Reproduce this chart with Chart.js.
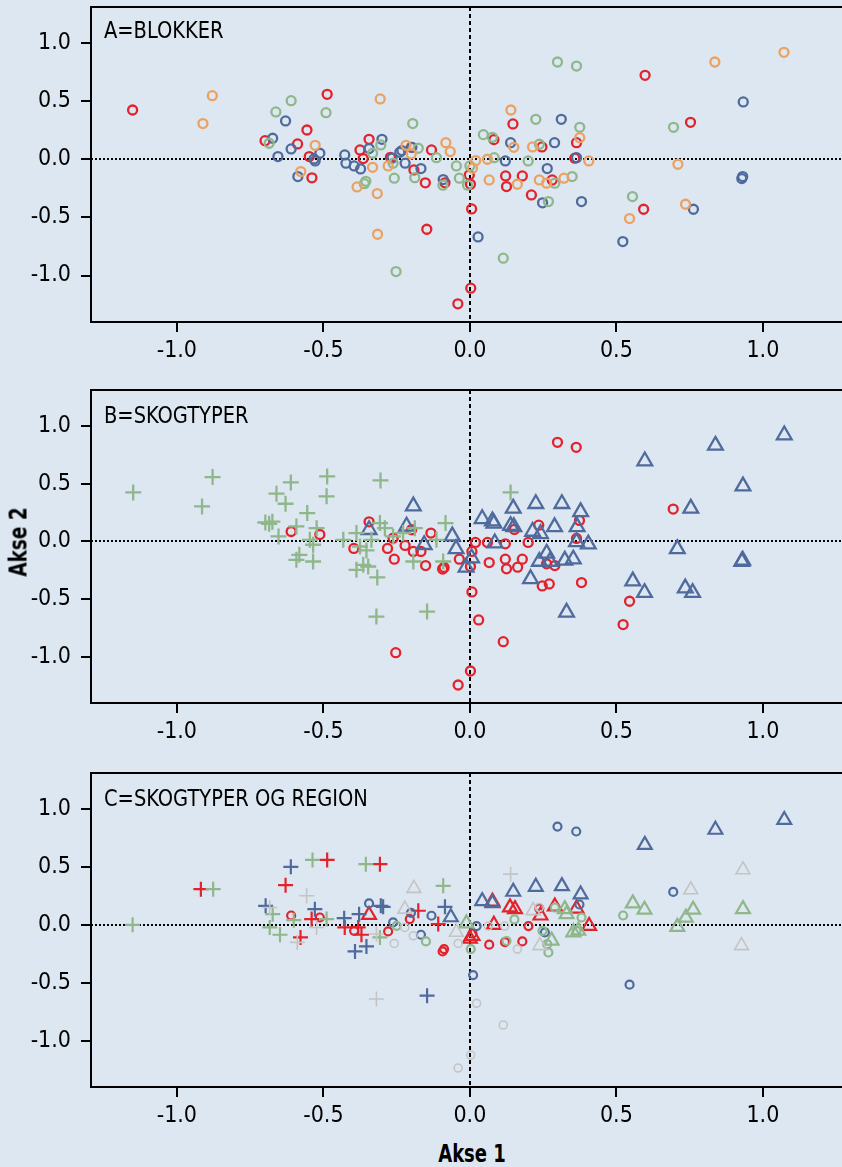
<!DOCTYPE html>
<html>
<head>
<meta charset="utf-8">
<script src="https://cdn.jsdelivr.net/npm/chart.js@4.4.1/dist/chart.umd.min.js"></script>
<style>
  body { margin: 0; width: 842px; height: 1167px; overflow: hidden; position: relative; background: #dde7f1; }
  canvas { position: absolute; left: 0; }
  .akse { position: absolute; font-family: 'Liberation Sans Narrow', 'Arial Narrow', 'DejaVu Sans Condensed', sans-serif; font-weight: bold; font-size: 25px; line-height: 25px; color: #000; white-space: nowrap; }
</style>
</head>
<body>
<canvas id="panelA" width="842" height="372" style="top:0px"></canvas>
<canvas id="panelB" width="842" height="370" style="top:383px"></canvas>
<canvas id="panelC" width="842" height="371" style="top:766px"></canvas>
<div class="akse" style="left:18px;top:542px;transform:translate(-50%,-50%) rotate(-90deg) scaleX(0.82)">Akse 2</div>
<div class="akse" style="left:472px;top:1141px;transform:translateX(-50%) scaleX(0.8)">Akse 1</div>

<script>
// axes
const xTicks = [-1.0, -0.5, 0.0, 0.5, 1.0];
const yTicks = [-1.0, -0.5, 0.0, 0.5, 1.0];
const xRange = [-1.293, 1.27];
const yRange = [-1.40, 1.31];

// A = blokker (4 blokker)
const blokkRod = [[-1.151,0.424],[-0.487,0.559],[-0.556,0.252],[-0.699,0.160],[-0.588,0.132],[-0.548,0.023],[-0.539,-0.160],
  [-0.344,0.172],[-0.375,0.080],[-0.364,0.006],[-0.271,0.017],[-0.199,0.103],[-0.191,-0.092],[-0.131,0.080],[-0.152,-0.203],
  [-0.085,-0.203],[-0.002,-0.135],[0.002,-0.215],[0.006,-0.427],[-0.147,-0.602],[-0.041,-1.244],[0.003,-1.109],[0.598,0.722],
  [0.753,0.318],[0.147,0.304],[0.364,0.143],[0.246,0.106],[0.082,0.169],[0.358,0.009],[0.122,-0.143],[0.125,-0.235],
  [0.179,-0.143],[0.281,-0.178],[0.210,-0.307],[0.593,-0.430]];
const blokkBla = [[-0.629,0.330],[-0.673,0.181],[-0.610,0.089],[-0.655,0.023],[-0.512,0.052],[-0.532,0.003],[-0.528,-0.014],
  [-0.587,-0.149],[-0.300,0.172],[-0.344,0.092],[-0.427,0.037],[-0.423,-0.034],[-0.395,-0.057],[-0.373,-0.083],[-0.266,0.009],
  [-0.239,0.060],[-0.232,0.075],[-0.221,-0.034],[-0.198,0.103],[-0.167,-0.080],[-0.091,-0.175],[0.933,0.493],[0.312,0.344],
  [0.289,0.143],[0.139,0.143],[0.121,-0.014],[0.364,0.014],[0.264,-0.080],[0.248,-0.375],[0.381,-0.364],[0.028,-0.668],
  [0.522,-0.708],[0.763,-0.430],[0.931,-0.149],[0.928,-0.166]];
const blokkGronn = [[-0.662,0.407],[-0.610,0.504],[-0.491,0.401],[-0.195,0.307],[-0.685,0.138],[-0.304,0.123],[-0.332,0.052],
  [-0.355,-0.190],[-0.360,-0.210],[-0.258,-0.163],[-0.262,-0.034],[-0.176,0.095],[-0.188,-0.158],[-0.114,0.014],[-0.092,-0.223],
  [-0.046,-0.057],[-0.036,-0.163],[0.000,-0.057],[-0.008,-0.223],[-0.252,-0.966],[0.299,0.837],[0.364,0.802],[0.695,0.275],
  [0.225,0.344],[0.375,0.275],[0.237,0.129],[0.046,0.212],[0.077,0.189],[0.083,0.014],[0.199,-0.014],[0.290,-0.206],
  [0.349,-0.149],[0.268,-0.364],[0.114,-0.851],[0.555,-0.321]];
const blokkOransje = [[-0.879,0.547],[-0.911,0.307],[-0.306,0.519],[-0.528,0.120],[-0.577,-0.106],[-0.332,-0.069],[-0.279,-0.057],
  [-0.385,-0.238],[-0.316,-0.295],[-0.218,0.120],[-0.200,0.046],[-0.082,0.143],[-0.067,0.066],[0.009,-0.077],[-0.315,-0.645],
  [1.072,0.920],[0.836,0.837],[0.140,0.424],[0.375,0.186],[0.214,0.106],[0.150,0.103],[0.020,-0.011],[0.060,0.000],
  [0.406,-0.014],[0.066,-0.178],[0.162,-0.215],[0.237,-0.178],[0.262,-0.206],[0.321,-0.163],[0.710,-0.043],[0.736,-0.387],
  [0.545,-0.510]];

// B = skogtyper
const typeKryss = [[-1.149,0.423],[-0.878,0.556],[-0.914,0.302],[-0.660,0.412],[-0.611,0.510],[-0.629,0.325],[-0.487,0.562],
  [-0.489,0.389],[-0.305,0.527],[-0.555,0.244],[-0.698,0.163],[-0.685,0.152],[-0.674,0.170],[-0.653,0.042],[-0.592,0.129],
  [-0.523,0.114],[-0.546,0.013],[-0.535,-0.030],[-0.582,-0.117],[-0.592,-0.160],[-0.535,-0.175],[-0.432,0.013],[-0.387,0.071],
  [-0.375,-0.045],[-0.353,-0.079],[-0.364,-0.204],[-0.387,-0.247],[-0.347,-0.218],[-0.316,-0.313],[-0.307,0.158],[-0.290,0.114],
  [-0.319,-0.652],[-0.146,-0.608],[-0.083,0.158],[-0.262,0.042],[-0.228,0.071],[-0.188,0.114],[-0.193,-0.175],[-0.114,0.013],
  [-0.091,-0.175],[-0.336,0.013],[0.139,0.423]];
const typeSirkel = [[-0.610,0.085],[-0.512,0.059],[-0.344,0.169],[-0.396,-0.062],[-0.281,-0.062],[-0.258,-0.155],[-0.199,0.100],
  [-0.221,-0.036],[-0.193,-0.088],[-0.167,-0.088],[-0.133,0.071],[-0.151,-0.210],[-0.093,-0.240],[-0.088,-0.227],[-0.262,0.027],
  [-0.253,-0.964],[0.299,0.857],[0.363,0.814],[0.694,0.279],[0.374,0.181],[0.235,0.140],[0.152,0.103],[0.364,0.025],
  [0.199,-0.010],[0.121,-0.022],[0.060,-0.010],[0.019,-0.010],[0.007,-0.088],[-0.036,-0.155],[0.066,-0.184],[0.121,-0.155],
  [0.125,-0.238],[0.163,-0.224],[0.179,-0.155],[0.262,-0.195],[0.290,-0.210],[0.247,-0.386],[0.271,-0.369],[0.381,-0.357],
  [0.002,-0.218],[0.007,-0.438],[0.030,-0.681],[0.114,-0.869],[0.002,-1.123],[-0.040,-1.244],[0.545,-0.519],[0.523,-0.721]];
const typeTrekant = [[-0.193,0.305],[-0.344,0.100],[-0.216,0.130],[-0.156,-0.030],[-0.060,0.045],[-0.047,-0.065],[-0.013,-0.225],
  [1.073,0.920],[0.838,0.830],[0.597,0.695],[0.932,0.478],[0.754,0.285],[0.708,-0.065],[0.928,-0.175],[0.931,-0.165],
  [0.556,-0.345],[0.596,-0.445],[0.735,-0.405],[0.760,-0.445],[0.330,-0.615],[0.225,0.325],[0.314,0.325],[0.378,0.255],
  [0.148,0.285],[0.042,0.195],[0.077,0.175],[0.082,0.155],[0.139,0.135],[0.150,0.125],[0.214,0.085],[0.241,0.065],
  [0.289,0.125],[0.366,0.125],[0.364,-0.005],[0.404,-0.025],[0.085,-0.015],[0.262,-0.105],[0.237,-0.175],[0.273,-0.175],
  [0.324,-0.165],[0.353,-0.155],[0.207,-0.325],[0.006,-0.145]];

// C = skogtyper og region
const kryssGronn = [[-1.151,0.000],[-0.876,0.307],[-0.537,0.560],[-0.355,0.523],[-0.091,0.336],[-0.673,0.092],[-0.683,-0.023],
  [-0.648,-0.086],[-0.601,0.040],[-0.489,0.049],[-0.307,-0.109]];
const kryssRod = [[-0.918,0.307],[-0.487,0.560],[-0.307,0.523],[-0.629,0.342],[-0.540,0.049],[-0.578,-0.109],[-0.427,-0.023],
  [-0.381,-0.023],[-0.370,-0.086],[-0.176,0.121],[-0.108,0.006]];
const kryssBla = [[-0.611,0.500],[-0.697,0.164],[-0.529,0.135],[-0.429,0.057],[-0.378,0.092],[-0.304,0.164],[-0.296,0.155],
  [-0.392,-0.230],[-0.353,-0.187],[-0.146,-0.612],[-0.085,0.155]];
const kryssGra = [[-0.557,0.250],[-0.683,0.149],[-0.589,-0.152],[-0.319,-0.641],[-0.523,-0.023],[-0.319,-0.080],[0.139,0.437]];
const sirkelRod = [[-0.610,0.080],[-0.512,0.063],[-0.395,-0.052],[-0.205,0.049],[-0.279,-0.057],[-0.093,-0.230],[-0.088,-0.210],
  [0.237,0.141],[0.200,-0.011],[0.066,-0.172],[0.120,-0.150],[0.179,-0.144],[0.009,-0.075]];
const sirkelBla = [[-0.344,0.184],[-0.201,0.103],[-0.262,0.020],[-0.131,0.078],[-0.167,-0.086],[0.011,-0.434],[0.299,0.848],
  [0.363,0.805],[0.694,0.284],[0.374,0.175],[0.023,-0.011],[0.256,-0.066],[0.545,-0.517]];
const sirkelGronn = [[-0.250,-0.009],[-0.150,-0.144],[0.003,-0.210],[0.523,0.080],[0.290,0.149],[0.152,0.046],[0.381,0.063],
  [0.364,-0.052],[0.248,-0.052],[0.264,-0.167],[0.268,-0.239],[0.125,-0.140]];
const sirkelGra = [[-0.258,-0.161],[-0.193,-0.095],[-0.222,-0.023],[-0.040,-0.161],[0.003,-1.124],[-0.040,-1.236],[0.023,-0.678],
  [0.237,0.149],[0.119,-0.011],[0.063,-0.011],[0.162,-0.210],[0.114,-0.865]];
const trekantRod = [[-0.344,0.085],[0.009,-0.095],[0.077,0.200],[0.137,0.150],[0.154,0.135],[0.290,0.158],[0.364,0.140],
  [0.407,-0.010],[0.082,0.000],[0.000,-0.120],[0.241,0.080]];
const trekantBla = [[-0.065,0.065],[1.073,0.905],[0.838,0.820],[0.597,0.690],[0.148,0.285],[0.225,0.328],[0.314,0.334],
  [0.378,0.262],[0.042,0.204],[0.077,0.187]];
const trekantGronn = [[0.556,0.185],[0.596,0.130],[0.762,0.130],[0.737,0.062],[0.708,-0.018],[0.932,0.135],[0.324,0.135],
  [0.330,0.092],[0.353,-0.065],[0.370,-0.050],[0.279,-0.137],[-0.012,0.012]];
const trekantGra = [[-0.191,0.314],[-0.222,0.135],[-0.046,-0.065],[0.932,0.475],[0.754,0.302],[0.927,-0.180],[0.239,-0.180],
  [0.216,0.122]];

const ROD = '#e3222b', BLA = '#4f6a9c', GRONN = '#8fb78b', ORANSJE = '#eba162', GRA = '#c4c4c4';
const FONT = "'Liberation Sans Narrow', 'Arial Narrow', 'DejaVu Sans Condensed', sans-serif";

Chart.defaults.font.family = FONT;

// black frame (left, top, bottom) and panel letter
const frame = {
  id: 'frame',
  beforeDatasetsDraw(chart, args, opts) {
    const { ctx, chartArea: a } = chart;
    ctx.save();
    ctx.strokeStyle = '#000';
    ctx.lineWidth = 2;
    ctx.beginPath();
    ctx.moveTo(a.right + 2, a.top);
    ctx.lineTo(a.left, a.top);
    ctx.lineTo(a.left, a.bottom);
    ctx.lineTo(a.right + 2, a.bottom);
    ctx.stroke();
    ctx.fillStyle = '#000';
    ctx.font = '23px ' + FONT;
    ctx.textBaseline = 'alphabetic';
    ctx.translate(a.left + 13, a.top + opts.base);
    ctx.scale(0.94, 1);
    ctx.fillText(opts.title, 0, 0);
    ctx.restore();
  }
};

function serie(pts, color, style, r, w) {
  return {
    data: pts.map(p => ({ x: p[0], y: p[1] })),
    pointStyle: style,
    pointRadius: r,
    pointHoverRadius: r,
    pointBorderWidth: w,
    pointBorderColor: color,
    pointBackgroundColor: 'rgba(0,0,0,0)'
  };
}

function zeroGrid(c) {
  return c.tick && c.tick.value === 0 ? '#000' : 'rgba(0,0,0,0)';
}

function panel(id, title, base, datasets) {
  new Chart(document.getElementById(id), {
    type: 'scatter',
    data: { datasets },
    options: {
      responsive: false,
      animation: false,
      events: [],
      layout: { autoPadding: false, padding: { top: 7, left: 0, right: 0, bottom: 0 } },
      plugins: { legend: { display: false }, tooltip: { enabled: false }, frame: { title, base } },
      scales: {
        x: {
          type: 'linear', min: xRange[0], max: xRange[1],
          afterFit: s => { s.height = 50; s.paddingLeft = 0; s.paddingRight = 0; },
          afterBuildTicks: s => { s.ticks = xTicks.map(v => ({ value: v })); },
          grid: { color: zeroGrid, lineWidth: 2, tickColor: '#000', tickWidth: 2, tickLength: 10, tickBorderDash: [] },
          border: { display: false, dash: [4, 3] },
          ticks: { color: '#000', font: { size: 23 }, padding: 5, maxRotation: 0, callback: v => v.toFixed(1) }
        },
        y: {
          type: 'linear', min: yRange[0], max: yRange[1],
          afterFit: s => { s.width = 91; s.paddingTop = 0; s.paddingBottom = 0; },
          afterBuildTicks: s => { s.ticks = yTicks.map(v => ({ value: v })); },
          grid: { color: zeroGrid, lineWidth: 2, tickColor: '#000', tickWidth: 2, tickLength: 10, tickBorderDash: [] },
          border: { display: false, dash: [2, 2] },
          ticks: { color: '#000', font: { size: 23 }, padding: 10, callback: v => v.toFixed(1) }
        }
      }
    },
    plugins: [frame]
  });
}

panel('panelA', 'A=BLOKKER', 31, [
  serie(blokkOransje, ORANSJE, 'circle', 4.5, 2.3),
  serie(blokkGronn, GRONN, 'circle', 4.5, 2.3),
  serie(blokkBla, BLA, 'circle', 4.5, 2.3),
  serie(blokkRod, ROD, 'circle', 4.5, 2.3)
]);

panel('panelB', 'B=SKOGTYPER', 33, [
  serie(typeKryss, GRONN, 'cross', 8, 2.3),
  serie(typeTrekant, BLA, 'triangle', 8.5, 2.3),
  serie(typeSirkel, ROD, 'circle', 4.5, 2.3)
]);

panel('panelC', 'C=SKOGTYPER OG REGION', 33, [
  serie(kryssGra, GRA, 'cross', 7.5, 1.6),
  serie(sirkelGra, GRA, 'circle', 4, 1.6),
  serie(trekantGra, GRA, 'triangle', 8, 1.6),
  serie(kryssGronn, GRONN, 'cross', 7.5, 2.2),
  serie(sirkelGronn, GRONN, 'circle', 4, 2.2),
  serie(trekantGronn, GRONN, 'triangle', 8, 2.2),
  serie(kryssBla, BLA, 'cross', 7.5, 2.2),
  serie(sirkelBla, BLA, 'circle', 4, 2.2),
  serie(trekantBla, BLA, 'triangle', 8, 2.2),
  serie(kryssRod, ROD, 'cross', 7.5, 2.2),
  serie(sirkelRod, ROD, 'circle', 4, 2.2),
  serie(trekantRod, ROD, 'triangle', 8, 2.2)
]);
</script>
</body>
</html>
